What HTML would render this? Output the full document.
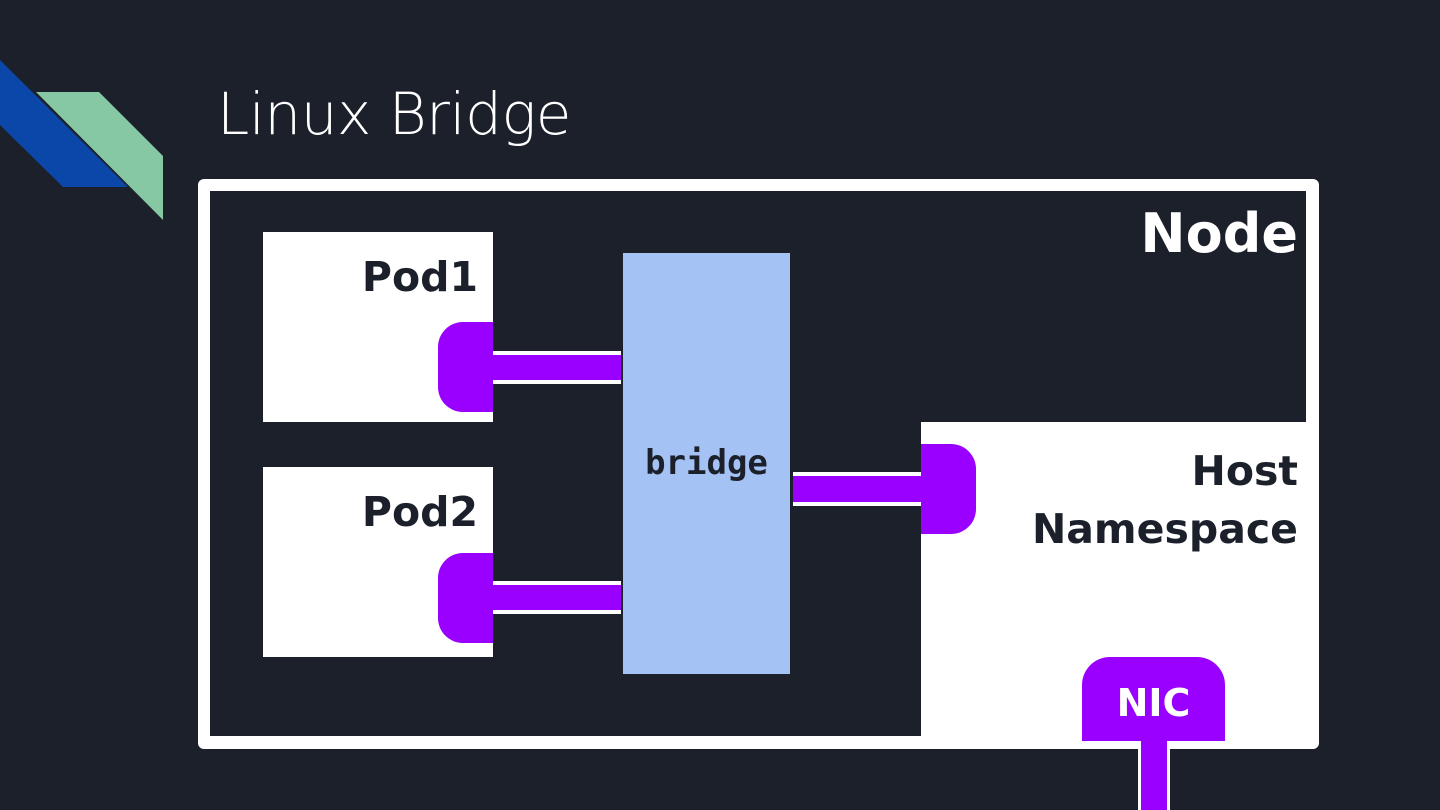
<!DOCTYPE html>
<html><head><style>
body{margin:0;width:1440px;height:810px;background:#1b202b;overflow:hidden;position:relative;font-family:"DejaVu Sans","Liberation Sans",sans-serif}
.a{position:absolute}
.t{position:absolute;font-weight:bold;color:#1b202b;white-space:nowrap}
</style></head><body>
<svg class="a" style="left:0;top:0" width="1440" height="810">
<polygon points="0,60 128,187 63,187 0,125" fill="#0b47a9"/>
<polygon points="36,92 99,92 163,156 163,220" fill="#86c8a4"/>
<rect x="198" y="179" width="1121" height="570" rx="6" fill="#fff"/>
<rect x="210" y="191" width="1096" height="545" fill="#1b202b"/>
<rect x="921" y="422" width="386" height="315" fill="#fff"/>
<rect x="263" y="232" width="230" height="190" fill="#fff"/>
<rect x="263" y="467" width="230" height="190" fill="#fff"/>
<rect x="623" y="253" width="167" height="421" fill="#a4c2f4"/>
<rect x="493" y="351" width="128" height="33" fill="#fff"/>
<rect x="493" y="355" width="128" height="25" fill="#9900ff"/>
<path d="M493,322 H463 a25,25 0 0 0 -25,25 V387 a25,25 0 0 0 25,25 H493 Z" fill="#9900ff"/>
<rect x="493" y="581" width="128" height="33" fill="#fff"/>
<rect x="493" y="585" width="128" height="25" fill="#9900ff"/>
<path d="M493,553 H463 a25,25 0 0 0 -25,25 V618 a25,25 0 0 0 25,25 H493 Z" fill="#9900ff"/>
<rect x="793" y="472" width="128" height="34" fill="#fff"/>
<rect x="793" y="476" width="128" height="26" fill="#9900ff"/>
<path d="M921,444 H951 a25,25 0 0 1 25,25 V509 a25,25 0 0 1 -25,25 H921 Z" fill="#9900ff"/>
<rect x="1138" y="735" width="32" height="80" fill="#fff"/>
<rect x="1141" y="735" width="26" height="80" fill="#9900ff"/>
<path d="M1082,741 V685 a28,28 0 0 1 28,-28 H1197 a28,28 0 0 1 28,28 V741 Z" fill="#9900ff"/>
</svg>
<div class="a" style="left:217px;top:80px;font-size:58px;color:#fff;font-weight:300;letter-spacing:-0.5px;font-family:'DejaVu Sans',sans-serif">Linux Bridge</div>
<div class="t" style="right:142px;top:202px;font-size:54px;color:#fff">Node</div>
<div class="t" style="right:962px;top:253px;font-size:41px">Pod1</div>
<div class="t" style="right:962px;top:488px;font-size:41px">Pod2</div>
<div class="t" style="left:623px;width:167px;text-align:center;top:443px;font-size:34px;font-family:'DejaVu Sans Mono','Liberation Mono',monospace">bridge</div>
<div class="t" style="right:142px;top:442px;font-size:41px;text-align:right;line-height:58px">Host<br>Namespace</div>
<div class="t" style="left:1082px;width:143px;text-align:center;top:681px;font-size:38px;color:#fff">NIC</div>
</body></html>
